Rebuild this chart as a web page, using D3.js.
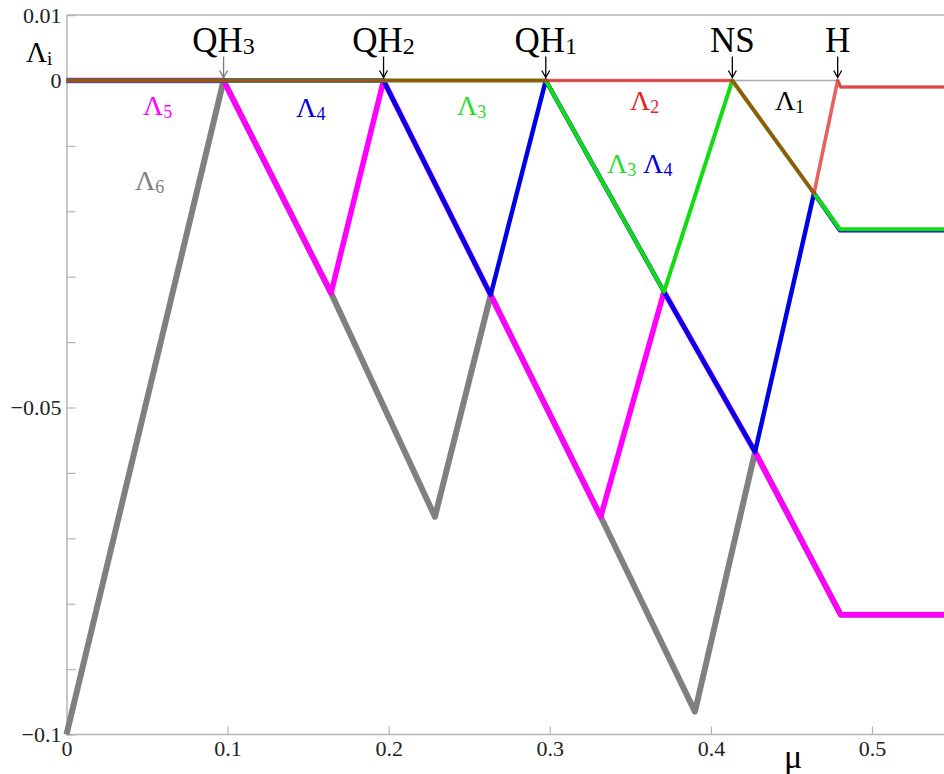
<!DOCTYPE html>
<html>
<head>
<meta charset="utf-8">
<script src="https://cdn.jsdelivr.net/npm/d3@7"></script>
<style>
  body { margin: 0; background: #fff; }
  svg { display: block; }
  svg text { font-family: "Liberation Serif", "Times New Roman", serif; }
</style>
</head>
<body>
<div id="chart"></div>
<script>
// Lyapunov exponents vs mu
const lam1 = [[0, 0], [0.4787, 0], [0.4805, -0.001], [0.55, -0.001]];
const lam2 = [[0, 0], [0.4133, 0], [0.464, -0.01725], [0.4787, 0], [0.4805, -0.001], [0.55, -0.001]];
const lam3 = [[0, 0], [0.2975, 0], [0.3709, -0.0323], [0.4133, 0], [0.464, -0.01725], [0.4801, -0.02275], [0.55, -0.02275]];
const lam4 = [[0, 0], [0.1968, 0], [0.2633, -0.0328], [0.2975, 0], [0.3709, -0.0323], [0.4274, -0.0568],
              [0.464, -0.01725], [0.4801, -0.0229], [0.55, -0.0229]];
const lam5 = [[0, 0], [0.0975, 0], [0.1642, -0.0325], [0.1968, 0], [0.2633, -0.0328], [0.3316, -0.0667],
              [0.3709, -0.0323], [0.4274, -0.0568], [0.4806, -0.0817], [0.55, -0.0817]];
const lam6 = [[0, -0.1], [0.0975, 0], [0.1642, -0.0325], [0.2287, -0.0667], [0.2633, -0.0328], [0.3316, -0.0667],
              [0.3901, -0.0965], [0.4274, -0.0568], [0.4806, -0.0817], [0.55, -0.0817]];

// bifurcation points
const eventNames = ["QH", "QH", "QH", "NS", "H"];
const eventSubs = ["3", "2", "1", "", ""];
const eventMu = [0.0975, 0.1968, 0.2975, 0.4133, 0.4787];

const xTicks = [0, 0.1, 0.2, 0.3, 0.4, 0.5];
const yTicks = [0.01, 0, -0.01, -0.02, -0.03, -0.04, -0.05, -0.06, -0.07, -0.08, -0.09, -0.1];
const yLabelled = [0.01, 0, -0.05, -0.1];

// curve labels: [text, subscript, mu, value, colour]
const curveLabels = [
  ["Λ", "5", 0.0475, -0.0053, "#ff00ff"],
  ["Λ", "4", 0.1425, -0.0056, "#0000e0"],
  ["Λ", "3", 0.2424, -0.0053, "#22dd22"],
  ["Λ", "2", 0.3498, -0.0045, "#e82020"],
  ["Λ", "1", 0.4398, -0.0045, "#000"],
  ["Λ", "6", 0.0425, -0.0167, "#808080"],
  ["Λ", "3", 0.3355, -0.0142, "#22dd22"],
  ["Λ", "4", 0.3579, -0.0142, "#0000e0"]
];

const W = 944, H = 774;
const svg = d3.select("#chart").append("svg").attr("width", W).attr("height", H);
svg.append("rect").attr("width", W).attr("height", H).attr("fill", "#fff");

const x = d3.scaleLinear().domain([0, 0.55]).range([66.5, 66.5 + 0.55 * 1611]);
const y = d3.scaleLinear().domain([-0.1, 0.01]).range([734.5, 15.1]);

const AXIS = "#b4b4b4";

// top frame line
svg.append("line").attr("x1", x(0)).attr("x2", W).attr("y1", y(0.01)).attr("y2", y(0.01))
  .attr("stroke", AXIS).attr("stroke-width", 1.5);

let xAxis = svg.append("g").attr("transform", `translate(0,${y(-0.1)})`)
  .call(d3.axisBottom(x).tickValues(xTicks).tickSizeInner(-8).tickSizeOuter(0).tickPadding(6)
    .tickFormat(d => d === 0 ? "0" : d3.format(".1f")(d)));
let yAxis = svg.append("g").attr("transform", `translate(${x(0)},0)`)
  .call(d3.axisLeft(y).tickValues(yTicks).tickSizeInner(-9).tickSizeOuter(0).tickPadding(5)
    .tickFormat(d => yLabelled.some(v => Math.abs(v - d) < 1e-9) ? (d === 0 ? "0" : d3.format("")(+d.toFixed(2))) : ""));

[xAxis, yAxis].forEach(g => {
  g.select(".domain").attr("stroke", AXIS).attr("stroke-width", 1.5);
  g.selectAll(".tick line").attr("stroke", AXIS).attr("stroke-width", 1.2);
  g.selectAll(".tick text").attr("fill", "#222").attr("font-size", 22);
});
xAxis.select(".domain").attr("d", `M${x(0)},0H${W}`);

// axis titles
svg.append("text").attr("x", 784).attr("y", 768).attr("font-size", 34).text("μ");
let li = svg.append("text").attr("x", 26).attr("y", 62).attr("font-size", 29).text("Λ");
li.append("tspan").attr("font-size", 19).attr("dy", 3).text("i");

// curves, bottom to top
const line = d3.line().x(d => x(d[0])).y(d => y(d[1]));
const series = [
  { d: lam1, c: "#aaaaaa", w: 1.5, o: 1 },
  { d: lam6, c: "#808080", w: 6, o: 1 },
  { d: lam5, c: "#ff00ff", w: 5.5, o: 1 },
  { d: lam4, c: "#0000e6", w: 4.5, o: 1 },
  { d: lam3, c: "#10dd10", w: 4, o: 1 },
  { d: lam2, c: "#dd1515", w: 3.6, o: 0.68 }
];
svg.append("g").selectAll("path").data(series).join("path")
  .attr("d", s => line(s.d))
  .attr("fill", "none")
  .attr("stroke", s => s.c)
  .attr("stroke-width", s => s.w)
  .attr("stroke-opacity", s => s.o)
  .attr("stroke-linejoin", "round");

// bifurcation markers
const ev = svg.append("g").selectAll("g").data(eventMu).join("g")
  .attr("transform", d => `translate(${x(d)},0)`);
ev.append("line").attr("y1", y(0) - 24).attr("y2", y(0) - 3)
  .attr("stroke", (d, i) => i === 0 ? "#777" : "#000").attr("stroke-width", 1.3);
ev.append("path").attr("d", `M-4,${y(0) - 10}L0,${y(0) - 3}L4,${y(0) - 10}`)
  .attr("fill", "none").attr("stroke", (d, i) => i === 0 ? "#777" : "#000").attr("stroke-width", 1.3);
const evText = ev.append("text").attr("y", 52).attr("text-anchor", "middle")
  .attr("font-size", 35).attr("fill", "#000");
evText.append("tspan").text((d, i) => eventNames[i]);
evText.append("tspan").attr("font-size", 24).attr("dy", 2).text((d, i) => eventSubs[i]);

// curve labels
const lab = svg.append("g").selectAll("text").data(curveLabels).join("text")
  .attr("x", d => x(d[2])).attr("y", d => y(d[3]))
  .attr("font-size", 28).attr("fill", d => d[4]);
lab.append("tspan").text(d => d[0]);
lab.append("tspan").attr("font-size", 18).attr("dy", 3).text(d => d[1]);
</script>
</body>
</html>
